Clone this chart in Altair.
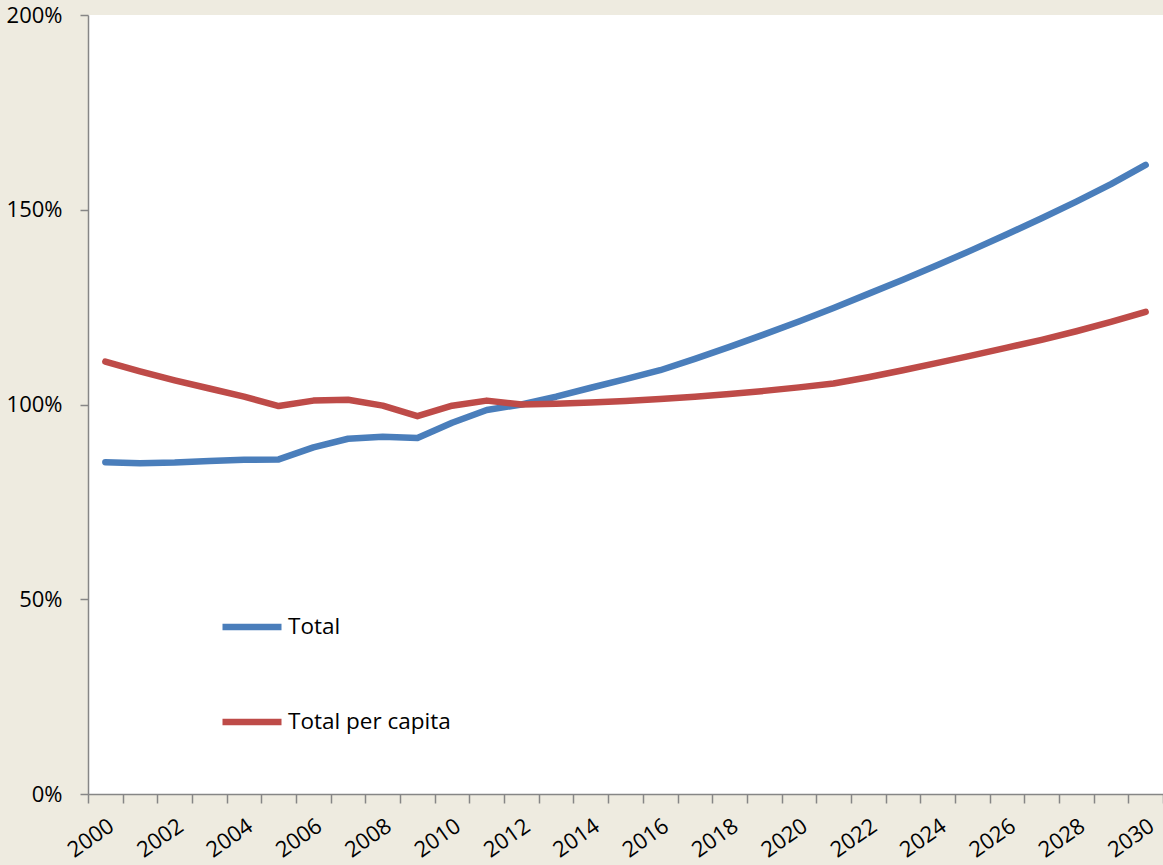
import altair as alt
import pandas as pd

years = list(range(2000, 2031))
total = [85.2, 84.9, 85.1, 85.5, 85.8, 85.9, 89.0, 91.2, 91.7, 91.4, 95.3, 98.6,
         100.0, 102.0, 104.3, 106.5, 108.8, 111.7, 114.8, 118.0, 121.3, 124.8,
         128.4, 132.0, 135.8, 139.7, 143.7, 147.8, 152.1, 156.6, 161.5]
per_capita = [111.0, 108.5, 106.2, 104.1, 102.0, 99.6, 101.0, 101.2, 99.7, 97.0,
              99.7, 101.0, 100.0, 100.2, 100.5, 100.9, 101.4, 102.0, 102.7, 103.5,
              104.4, 105.4, 107.0, 108.8, 110.7, 112.6, 114.6, 116.6, 118.8, 121.2, 123.8]
series_names = ["Total", "Total per capita"]
series_colors = ["#4A7EBB", "#BE4B48"]
y_ticks = [0, 50, 100, 150, 200]
x_label_years = list(range(2000, 2031, 2))
x_tick_bounds = [y - 0.5 for y in range(2000, 2032)]

df = pd.DataFrame({
    "year": years * 2,
    "value": total + per_capita,
    "series": [series_names[0]] * len(years) + [series_names[1]] * len(years),
})

FONT = "Open Sans"
x_scale = alt.Scale(domain=[1999.5, 2030.5], nice=False, zero=False)
y_scale = alt.Scale(domain=[0, 200], nice=False)

base = alt.Chart(df)

lines = base.mark_line(strokeWidth=6.5, strokeCap="round", strokeJoin="round").encode(
    x=alt.X("year:Q", scale=x_scale,
            axis=alt.Axis(values=x_label_years, title=None, orient="bottom", labelAngle=-35,
                          labelAlign="right", labelBaseline="top", labelPadding=21,
                          labelFont=FONT, labelFontSize=22, labelColor="#000000",
                          ticks=False, domain=False, grid=False, format="d",
                          labelOverlap=False, labelFlush=False)),
    y=alt.Y("value:Q", scale=y_scale,
            axis=alt.Axis(values=y_ticks, title=None, labelExpr="datum.value + '%'",
                          labelFont=FONT, labelFontSize=22, labelColor="#000000",
                          tickSize=8, tickColor="#868686", tickWidth=1.5,
                          domainColor="#868686", domainWidth=1.5,
                          labelPadding=18, grid=False, labelFlush=False)),
    color=alt.Color("series:N",
                    scale=alt.Scale(domain=series_names, range=series_colors),
                    legend=alt.Legend(title=None, orient="none", legendX=131, legendY=579,
                                      direction="vertical", symbolType="stroke",
                                      symbolSize=3481, symbolStrokeWidth=6.5,
                                      labelFont=FONT, labelFontSize=22.5, labelColor="#000000",
                                      labelOffset=3, rowPadding=49, padding=0, labelLimit=0)),
)

tick_df = pd.DataFrame({"b": x_tick_bounds})
ticks_layer = alt.Chart(tick_df).mark_point(opacity=0).encode(
    x=alt.X("b:Q", scale=x_scale,
            axis=alt.Axis(values=x_tick_bounds, labels=False, title=None, orient="bottom",
                          tickSize=9, tickColor="#868686", tickWidth=1.5,
                          domainColor="#868686", domainWidth=1.5, grid=False)),
)

chart = alt.layer(ticks_layer, lines).resolve_axis(x="independent").resolve_scale(x="shared").properties(
    width=1075, height=779,
    autosize=alt.AutoSizeParams(type="none"),
    padding={"left": 88, "top": 15, "right": 0, "bottom": 71},
    background="#EEEBE0",
).configure_view(fill="#FFFFFF", stroke=None)

chart.save("out.html", embed_options={"renderer": "svg", "actions": False})
